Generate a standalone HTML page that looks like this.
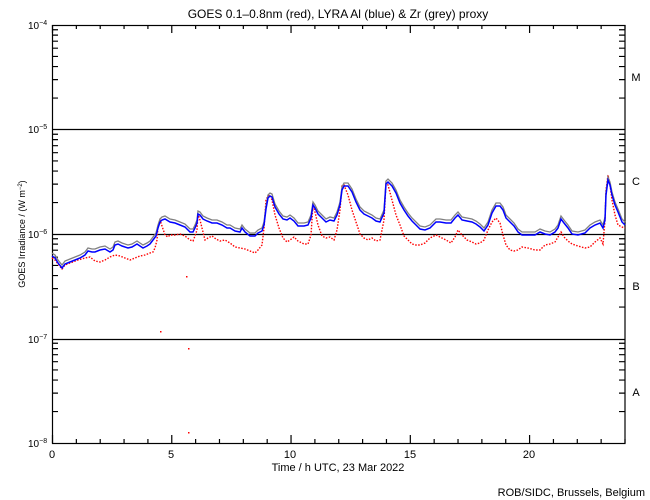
<!DOCTYPE html>
<html><head><meta charset="utf-8"><style>
html,body{margin:0;padding:0;background:#fff;}
svg{display:block;font-family:"Liberation Sans",sans-serif;}
</style></head><body>
<svg id="s" width="650" height="500" xmlns="http://www.w3.org/2000/svg">
<rect width="650" height="500" fill="#fff"/>
<text x="338" y="18" font-size="12" text-anchor="middle">GOES 0.1–0.8nm (red), LYRA Al (blue) &amp; Zr (grey) proxy</text>
<g id="ax" stroke="#000" stroke-width="1.2" fill="none">
<rect x="52.5" y="25.5" width="572.5" height="418"/>
<line x1="52" y1="129.5" x2="625" y2="129.5"/>
<line x1="52" y1="234.5" x2="625" y2="234.5"/>
<line x1="52" y1="339.5" x2="625" y2="339.5"/>
</g>
<g font-size="10">
<text x="28" y="29">10<tspan font-size="7" dy="-4">−4</tspan></text>
<text x="28" y="133">10<tspan font-size="7" dy="-4">−5</tspan></text>
<text x="28" y="238">10<tspan font-size="7" dy="-4">−6</tspan></text>
<text x="28" y="343">10<tspan font-size="7" dy="-4">−7</tspan></text>
<text x="28" y="447">10<tspan font-size="7" dy="-4">−8</tspan></text>
</g>
<g font-size="11" text-anchor="middle">
<text x="52" y="458">0</text><text x="171" y="458">5</text><text x="290" y="458">10</text><text x="410" y="458">15</text><text x="529" y="458">20</text>
<text x="338" y="471">Time / h UTC, 23 Mar 2022</text>
<text x="636" y="81">M</text><text x="636" y="185">C</text><text x="636" y="290">B</text><text x="636" y="396">A</text>
</g>
<text x="25" y="234" font-size="9" text-anchor="middle" transform="rotate(-90 25 234)">GOES Irradiance / (W m<tspan font-size="6" dy="-3">−2</tspan><tspan dy="3">)</tspan></text>
<text x="645" y="496" font-size="11" text-anchor="end">ROB/SIDC, Brussels, Belgium</text>
</svg>
<script>
var s=document.getElementById('s'),ns='http://www.w3.org/2000/svg';
function el(t,a){var e=document.createElementNS(ns,t);for(var k in a)e.setAttribute(k,a[k]);s.appendChild(e);return e;}
var d='';
for(var h=0;h<=24;h++){var x=52.5+h*572.5/24,L=(h%5==0)?8:4;d+='M'+x+' 443V'+(443-L)+'M'+x+' 25V'+(25+L);}
for(var dec=0;dec<4;dec++){var y0=25+dec*104.5+104.5;for(var m=2;m<=9;m++){var y=y0-Math.log10(m)*104.5;d+='M52 '+y+'h6M625 '+y+'h-6';}}
el('path',{d:d,stroke:'#000','stroke-width':1.2,fill:'none'});
var B=[52,256,55,258,58,263,62,268,65,264,70,262,75,260,80,258,85,255,88,251,92,252,95,252,100,250,105,249,110,252,113,250,115,245,118,244,122,246,128,248,132,247,137,244,140,246,143,248,147,246,150,244,153,240,156,236,158,228,160,222,162,220,165,219,170,222,175,223,180,225,185,227,188,230,190,232,193,232,195,228,197,223,198,214,200,215,203,219,207,221,212,223,217,223,222,225,227,228,230,228,235,231,240,232,242,228,245,232,250,236,255,236,258,233,262,231,264,225,266,209,268,198,270,196,272,197,275,207,279,214,283,219,287,220,290,218,294,221,298,226,304,226,308,225,311,218,313,205,315,208,318,214,322,218,326,222,330,220,334,221,337,215,340,205,342,190,344,186,348,186,352,192,356,202,360,210,364,214,368,216,372,218,376,221,380,222,384,213,386,184,388,182,392,186,396,193,400,203,404,210,408,216,412,221,416,225,420,229,425,230,430,228,436,222,440,222,446,223,451,223,455,218,458,215,462,220,467,221,472,222,476,224,480,227,484,231,488,225,492,213,496,206,500,206,503,210,506,218,510,222,514,226,518,232,522,235,528,235,535,235,540,232,545,234,550,235,555,232,558,228,561,219,564,223,568,228,572,234,578,235,585,233,590,228,595,225,600,223,603,228,605,220,606,195,608,180,610,185,612,195,615,205,618,212,622,222,625,225];
var R=[52,258,55,260,58,264,62,269,65,265,70,263,78,260,85,258,90,257,95,261,100,262,105,260,110,257,115,255,120,256,125,258,130,260,135,258,140,256,145,255,150,253,153,252,155,248,157,240,158,226,160,220,162,226,165,235,168,237,170,235,175,235,180,234,185,236,190,240,193,241,195,236,197,230,198,214,200,220,203,232,205,240,208,238,212,236,216,239,220,241,225,240,230,243,235,247,240,248,245,249,250,251,255,253,258,250,262,245,264,228,266,200,268,196,270,195,272,200,275,215,279,228,283,238,287,242,290,240,294,237,298,241,304,244,308,244,311,235,313,204,315,212,318,225,322,236,326,238,330,237,334,240,337,230,340,210,342,186,344,185,348,195,352,210,356,222,360,234,364,238,368,240,372,238,376,241,380,240,384,220,386,183,388,185,392,200,396,215,400,225,404,236,408,240,412,244,416,245,420,245,425,243,430,238,436,235,440,237,446,240,451,243,455,237,458,230,462,235,467,240,472,242,476,244,480,243,484,240,488,230,492,222,496,218,500,223,503,235,506,245,510,250,514,251,518,250,522,247,528,248,535,250,540,250,545,245,550,244,555,242,558,237,561,232,564,237,568,241,572,244,578,246,585,248,590,247,595,242,600,238,603,244,605,220,606,190,608,175,610,185,612,200,615,215,618,225,622,227,625,228];
function pts(a,dy){var p=[];for(var i=0;i<a.length;i+=2)p.push(a[i]+','+(a[i+1]+dy));return p.join(' ');}
el('polyline',{points:pts(R,0),stroke:'#f00','stroke-width':1.4,fill:'none','stroke-dasharray':'1.5 1.5'});
el('polyline',{points:pts(B,-3),stroke:'#808080','stroke-width':1.3,fill:'none'});
el('polyline',{points:pts(B,0),stroke:'#00f','stroke-width':1.5,fill:'none'});
[[186,276],[160,331],[188,348],[188,432]].forEach(function(p){el('rect',{x:p[0],y:p[1],width:1.5,height:1.5,fill:'#f00'});});
</script>
</body></html>
